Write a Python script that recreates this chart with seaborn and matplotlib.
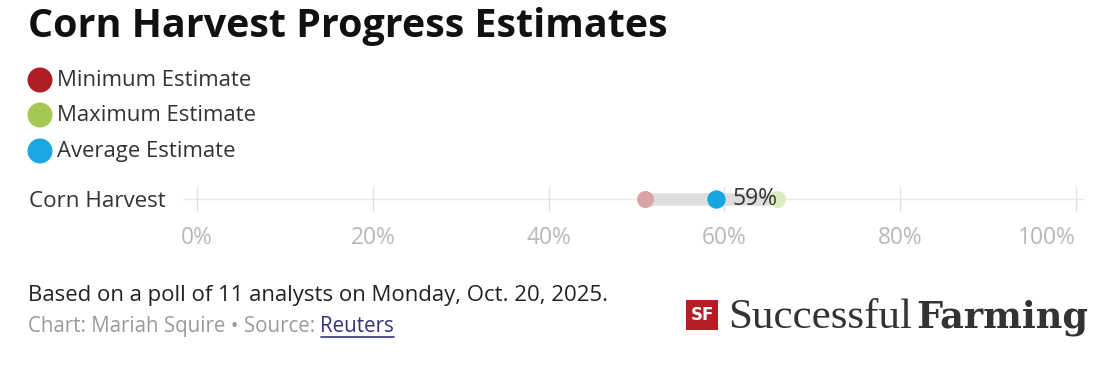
import matplotlib
matplotlib.use("Agg")
import matplotlib.pyplot as plt
import seaborn as sns
import pandas as pd
from matplotlib.patches import Circle, Rectangle

# ---- data ----
categories = ["Corn Harvest"]
min_est = [51]
max_est = [66]
avg_est = [59]
tick_vals = [0, 20, 40, 60, 80, 100]
tick_labels = ["0%", "20%", "40%", "60%", "80%", "100%"]
legend_labels = ["Minimum Estimate", "Maximum Estimate", "Average Estimate"]

sns.set_theme(style="white")
plt.rcParams['font.family'] = ['Open Sans', 'DejaVu Sans']

W, H = 1118, 365
fig = plt.figure(figsize=(W / 100, H / 100), dpi=100)
renderer = fig.canvas.get_renderer()


def fit(t, target):
    for _ in range(3):
        w = t.get_window_extent(renderer=renderer).width
        t.set_fontsize(t.get_fontsize() * target / w)
    return t


# main axes: x=0 -> 197px, x=100 -> 1076px
xmin, xmax = -1.6, 101
ppu = (1076 - 197) / 100
left_px = 197 + xmin * ppu
right_px = 197 + xmax * ppu
ax_top, ax_bot = 187, 212
ax = fig.add_axes([left_px / W, 1 - ax_bot / H, (right_px - left_px) / W, (ax_bot - ax_top) / H])

df = pd.DataFrame({"cat": categories, "min": min_est, "max": max_est, "avg": avg_est})
df["y"] = range(len(df))

ax.axhline(0, color="#e9e9e9", lw=1, zorder=0)
for v in tick_vals:
    ax.axvline(v, color="#e2e2e2", lw=1, zorder=0)

long = pd.DataFrame({"x": list(df["min"]) + list(df["max"]), "y": list(df["y"]) * 2,
                     "cat": list(df["cat"]) * 2})
sns.lineplot(data=long, x="x", y="y", units="cat", estimator=None, color="#dedede",
             lw=9, solid_capstyle="butt", ax=ax, zorder=1)
sns.scatterplot(data=df, x="min", y="y", color="#d9a2a4", s=150, linewidth=0, ax=ax, zorder=2)
sns.scatterplot(data=df, x="max", y="y", color="#dcebc0", s=150, linewidth=0, ax=ax, zorder=2)
sns.scatterplot(data=df, x="avg", y="y", color="#17a6e2", s=175, linewidth=0, ax=ax, zorder=3)
for _, r in df.iterrows():
    t = ax.text(r["avg"] + 1.95, r["y"], f"{r['avg']}%", ha="left", va="center",
                fontsize=13, color="#333333", zorder=4)
    fit(t, 45)

ax.set_xlim(xmin, xmax)
ax.set_ylim(-0.5, 0.5)
ax.set_xticks(tick_vals)
ax.set_xticklabels(tick_labels)
ax.set_yticks(list(df["y"]))
ax.set_yticklabels(categories)
ax.tick_params(axis="x", length=0, pad=10, labelcolor="#b8b8b8")
ax.tick_params(axis="y", length=0, pad=12.5, labelcolor="#333333")
fig.canvas.draw()
xt = ax.get_xticklabels()
fit(xt[1], 45)
for lab in xt:
    lab.set_fontsize(xt[1].get_fontsize())
xt[-1].set_ha("right")
xt[-1].set_x(100.2)
yl = ax.get_yticklabels()[0]
fit(yl, 137)
for s in ax.spines.values():
    s.set_visible(False)
ax.set_xlabel("")
ax.set_ylabel("")
ax.patch.set_alpha(0)

# overlay for annotations (pixel coords)
ov = fig.add_axes([0, 0, 1, 1], zorder=-1)
ov.set_xlim(0, W)
ov.set_ylim(H, 0)
ov.axis("off")

t = ov.text(28, 37, "Corn Harvest Progress Estimates", fontsize=27, fontweight="bold",
            color="#111111", va="baseline", ha="left")
fit(t, 640)

leg_cols = ["#b01d24", "#a4c953", "#1ba7e2"]
leg_y = [80, 115, 151]
leg_texts = []
for c, y, lab in zip(leg_cols, leg_y, legend_labels):
    ov.add_patch(Circle((40, y), 12.5, color=c, lw=0))
    leg_texts.append(ov.text(57, y + 6, lab, fontsize=13.5, color="#333333",
                             va="baseline", ha="left"))
fit(leg_texts[0], 193)
for lt in leg_texts[1:]:
    lt.set_fontsize(leg_texts[0].get_fontsize())

t = ov.text(28, 301, "Based on a poll of 11 analysts on Monday, Oct. 20, 2025.",
            fontsize=12.5, color="#222222", va="baseline", ha="left")
fit(t, 580)
t1 = ov.text(28, 332, "Chart: Mariah Squire \u2022 Source: ", fontsize=11.5,
             color="#9a9a9a", va="baseline", ha="left")
t2 = ov.text(300, 332, "Reuters", fontsize=11.5, color="#33337a", va="baseline", ha="left")
for _ in range(3):
    w = t1.get_window_extent(renderer).width + t2.get_window_extent(renderer).width
    f = t1.get_fontsize() * 366 / w
    t1.set_fontsize(f)
    t2.set_fontsize(f)
x_end = t1.get_window_extent(renderer).x1
t2.set_x(x_end)
bb2 = t2.get_window_extent(renderer)
ov.plot([bb2.x0, bb2.x1], [337, 337], color="#33337a", lw=1.2)

# logo
ov.add_patch(Rectangle((686, 300), 32, 30, color="#b31f24", lw=0))
ov.text(702, 315.5, "SF", fontsize=12, fontweight="bold", color="white",
        ha="center", va="center", family="DejaVu Sans")
ts = ov.text(728, 328, "Successful", fontsize=27, color="#333333", ha="left",
             va="baseline", family="Liberation Serif")
fit(ts, 184)
tf = ov.text(916, 328, "Farming", fontsize=25, fontweight="bold", color="#333333",
             ha="left", va="baseline", family="DejaVu Serif")
fit(tf, 172)

fig.savefig("out.png", dpi=100, facecolor="white")
